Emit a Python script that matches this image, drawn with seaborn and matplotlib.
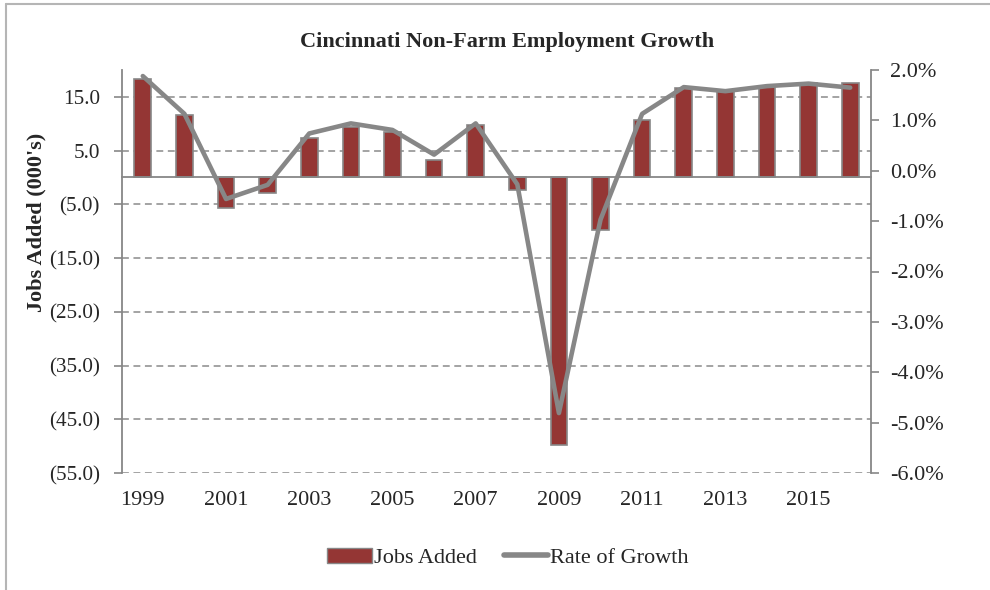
import numpy as np
import pandas as pd
import matplotlib
matplotlib.use('Agg')
import matplotlib.pyplot as plt
import seaborn as sns
from matplotlib.lines import Line2D
from matplotlib.patches import Patch
from matplotlib.ticker import FuncFormatter

# data
years = [str(y) for y in range(1999, 2017)]
jobs_added = [18.3, 11.7, -5.7, -2.9, 7.4, 9.3, 8.4, 3.3, 9.8, -2.4,
              -49.7, -9.7, 10.7, 16.7, 16.2, 17.0, 17.6, 17.5]
growth_rate = [1.88, 1.13, -0.56, -0.28, 0.74, 0.94, 0.81, 0.32, 0.94, -0.27,
               -4.81, -0.97, 1.13, 1.66, 1.58, 1.68, 1.73, 1.65]
year_labels = [y if i % 2 == 0 else '' for i, y in enumerate(years)]

df = pd.DataFrame({'year': years, 'jobs': jobs_added, 'rate': growth_rate})

bar_color = '#943634'
gray = '#878787'

sns.set_style('white')
plt.rcParams['font.family'] = ['Liberation Serif', 'DejaVu Serif']

fig = plt.figure(figsize=(9.9, 5.9), dpi=100)
ax = fig.add_axes([122 / 990, 1 - 473 / 590, (871 - 122) / 990, (473 - 70) / 590])

sns.barplot(data=df, x='year', y='jobs', color=bar_color, saturation=1,
            width=0.4, edgecolor=gray, linewidth=1.2, ax=ax)
ax.set_ylim(-55, 20)
ax.set_yticks(range(-55, 16, 10))
ax.yaxis.set_major_formatter(FuncFormatter(
    lambda v, p: f'({abs(v):.1f})' if v < 0 else f'{v:.1f}'))
ax.yaxis.grid(True, linestyle=(0, (4.5, 3)), color='#8a8a8a', linewidth=1.1)
ax.set_axisbelow(True)
ax.set_xlabel('')
ax.set_ylabel('')

for s in ['top', 'right']:
    ax.spines[s].set_visible(False)
ax.spines['left'].set_color(gray)
ax.spines['left'].set_linewidth(1.3)
ax.spines['bottom'].set_position(('data', 0))
ax.spines['bottom'].set_color(gray)
ax.spines['bottom'].set_linewidth(1.3)

ax.set_xticks(range(len(years)))
ax.set_xticklabels(year_labels)
ax.set_xticks(np.arange(0.5, len(years) - 1, 1), minor=True)
ax.tick_params(axis='x', which='major', length=0, pad=226, labelsize=16)
ax.tick_params(axis='x', which='minor', length=6, width=1.2, color=gray, direction='out')
ax.tick_params(axis='y', direction='out', length=6, width=1.2, color=gray,
               pad=10, labelsize=15.2, left=True)

ax2 = ax.twinx()
sns.lineplot(data=df, x='year', y='rate', color=gray, linewidth=3.3,
             sort=False, ax=ax2)
ax2.set_ylim(-6, 2)
ax2.set_yticks(range(-6, 3))
ax2.yaxis.set_major_formatter(FuncFormatter(lambda v, p: f'{v:.1f}%'))
ax2.set_xlabel('')
ax2.set_ylabel('')
for s in ['top', 'left', 'bottom']:
    ax2.spines[s].set_visible(False)
ax2.spines['right'].set_color(gray)
ax2.spines['right'].set_linewidth(1.3)
ax2.tick_params(axis='y', direction='out', length=6, width=1.2, color=gray,
                pad=8, labelsize=16, right=True)
ax.set_xlim(-0.5, len(years) - 0.5)

fig.text(507 / 990, 1 - 42 / 590, 'Cincinnati Non-Farm Employment Growth',
         ha='center', va='center', fontsize=16, fontweight='bold')
fig.text(36 / 990, 1 - 222 / 590, "Jobs Added (000's)", rotation=90,
         ha='center', va='center', fontsize=16, fontweight='bold')

handles = [Patch(facecolor=bar_color, edgecolor=gray, linewidth=1),
           Line2D([0], [0], color=gray, linewidth=4)]
fig.legend(handles, ['Jobs Added', 'Rate of Growth'], loc='center',
           bbox_to_anchor=(508 / 990, 1 - 558 / 590), ncol=2, frameon=False,
           fontsize=16, handlelength=2.0, handletextpad=0.1, columnspacing=1.2)

# chart border (left and top edges visible in the reference)
fig.add_artist(Line2D([6 / 990, 6 / 990], [0, 1 - 4 / 590], color='#b5b5b5', lw=1.5))
fig.add_artist(Line2D([6 / 990, 1], [1 - 4 / 590, 1 - 4 / 590], color='#b5b5b5', lw=1.5))

fig.savefig('out.png', dpi=100)
